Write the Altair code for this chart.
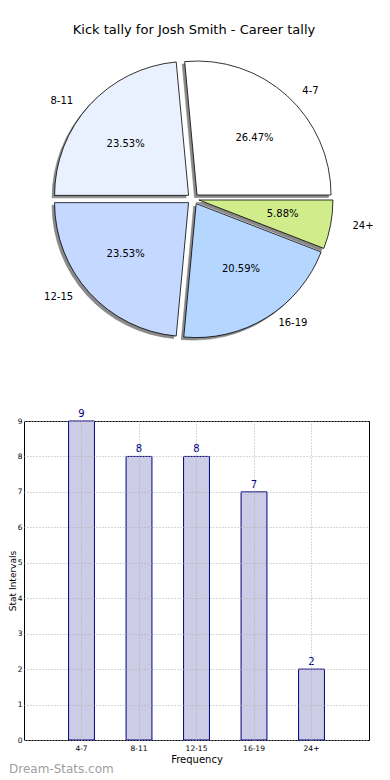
import math
import altair as alt
import pandas as pd

# ---------------- data ----------------
categories = ["4-7", "8-11", "12-15", "16-19", "24+"]
counts = [9, 8, 8, 7, 2]
pie_colors = ["#ffffff", "#eaf1fe", "#c5d8ff", "#b4d6ff", "#d1ed8b"]
title_text = "Kick tally for Josh Smith - Career tally"
watermark = "Dream-Stats.com"
y_ticks = [0, 1, 2, 3, 4, 5, 6, 7, 8, 9]

# ---------------- layout / style constants ----------------
R = 134            # pie radius (px)
RX, RY = 142, 128  # label ellipse radii
EX, EY = 6.0, 5.4  # explode offset
SH = 2.5           # shadow offset
W1, H1 = 340, 310  # pie panel
CXP, CYP = 169, 150  # pie centre inside the panel
BW, BH = 345, 319  # bar panel
FONT = "DejaVu Sans"

total = sum(counts)
rows = []
a0 = 0.0
for cat, c in zip(categories, counts):
    a1 = a0 + 360.0 * c / total
    mid = math.radians((a0 + a1) / 2)
    dx = EX * math.cos(mid)
    dy = EY * math.sin(mid)
    rows.append({
        "cat": cat,
        "count": c,
        "pct": f"{100.0 * c / total:.2f}%",
        "t0": math.radians(450 - a1),
        "t1": math.radians(450 - a0),
        "cx": dx, "cy": dy,
        "sx": dx - SH, "sy": dy - SH,
        "px": dx + 0.6 * RX * math.cos(mid), "py": dy + 0.6 * RY * math.sin(mid),
        "lx": dx + 1.1 * RX * math.cos(mid), "ly": dy + 1.1 * RY * math.sin(mid),
        "side": "right" if math.cos(mid) > 0 else "left",
    })
    a0 = a1
pie_df = pd.DataFrame(rows)

xs = alt.Scale(domain=[-CXP, W1 - CXP], nice=False, zero=False)
ys = alt.Scale(domain=[CYP - H1, CYP], nice=False, zero=False)

base = alt.Chart(pie_df)
theta = alt.Theta("t0:Q", scale=None, stack=None)
theta2 = alt.Theta2("t1:Q")

shadow = base.mark_arc(radius=R, fill="#8a8a8a", stroke="#777777", strokeWidth=0.5).encode(
    x=alt.X("sx:Q", scale=xs, axis=None),
    y=alt.Y("sy:Q", scale=ys, axis=None),
    theta=theta, theta2=theta2,
)
arcs = base.mark_arc(radius=R, stroke="black", strokeWidth=0.8).encode(
    x=alt.X("cx:Q", scale=xs, axis=None),
    y=alt.Y("cy:Q", scale=ys, axis=None),
    theta=theta, theta2=theta2,
    color=alt.Color("cat:N", scale=alt.Scale(domain=categories, range=pie_colors), legend=None),
)
pct = base.mark_text(fontSize=10, font=FONT, color="black", align="center", baseline="middle").encode(
    x=alt.X("px:Q", scale=xs, axis=None),
    y=alt.Y("py:Q", scale=ys, axis=None),
    text="pct:N",
)
lab_r = base.transform_filter(alt.datum.side == "right").mark_text(
    fontSize=10, font=FONT, color="black", align="left", baseline="middle").encode(
    x=alt.X("lx:Q", scale=xs, axis=None),
    y=alt.Y("ly:Q", scale=ys, axis=None),
    text="cat:N",
)
lab_l = base.transform_filter(alt.datum.side == "left").mark_text(
    fontSize=10, font=FONT, color="black", align="right", baseline="middle").encode(
    x=alt.X("lx:Q", scale=xs, axis=None),
    y=alt.Y("ly:Q", scale=ys, axis=None),
    text="cat:N",
)

pie = alt.layer(shadow, arcs, pct, lab_r, lab_l).properties(
    width=W1, height=H1,
    view=alt.ViewBackground(stroke="transparent"),
    title=alt.TitleParams(title_text, fontSize=13, font=FONT, fontWeight="normal",
                          anchor="middle", color="black", offset=12),
)

# ---------------- bar chart ----------------
bar_df = pd.DataFrame({"cat": categories, "count": counts})
grid_col = "#b0b0b0"
bbase = alt.Chart(bar_df).encode(
    x=alt.X("cat:N", sort=categories,
            scale=alt.Scale(paddingInner=0.55, paddingOuter=0.775),
            axis=alt.Axis(title="Frequency", labelAngle=0, labelFontSize=7.5, labelFont=FONT,
                          labelColor="black", titleFont=FONT, titleFontSize=10,
                          titleFontWeight="normal", titleColor="black", ticks=False,
                          domain=False, grid=True, gridDash=[1, 2], gridColor=grid_col,
                          bandPosition=0.5, labelPadding=4, titlePadding=3, zindex=1)),
    y=alt.Y("count:Q", scale=alt.Scale(domain=[0, 9], nice=False),
            axis=alt.Axis(title="Stat Intervals", values=y_ticks, format="d", labelFontSize=7.5,
                          labelFont=FONT, labelColor="black", titleFont=FONT, titleFontSize=9,
                          titleFontWeight="normal", titleColor="black", ticks=False,
                          domain=False, grid=True, gridDash=[1, 2], gridColor=grid_col,
                          labelPadding=2, titleX=-11.5, titleBaseline="middle", zindex=1)),
)
bars = bbase.mark_bar(fill="#ccccE6", stroke="#000080", strokeWidth=1)
btext = bbase.mark_text(dy=-2, baseline="bottom", color="#000080", fontSize=10, font=FONT).encode(
    text="count:Q")

barchart = alt.layer(bars, btext).properties(
    width=BW, height=BH,
    view=alt.ViewBackground(stroke="black", strokeWidth=1),
    title=alt.TitleParams(watermark, orient="bottom", anchor="start", frame="group",
                          fontSize=12, font=FONT, fontWeight="normal", color="#a0a0a0",
                          dx=-15, offset=-1),
)

chart = alt.vconcat(pie, barchart, spacing=62, bounds="flush").properties(
    padding={"left": 0, "top": 15, "right": 0, "bottom": 0},
).configure(font=FONT)

chart.save("out.html", embed_options={"renderer": "svg", "actions": False})
